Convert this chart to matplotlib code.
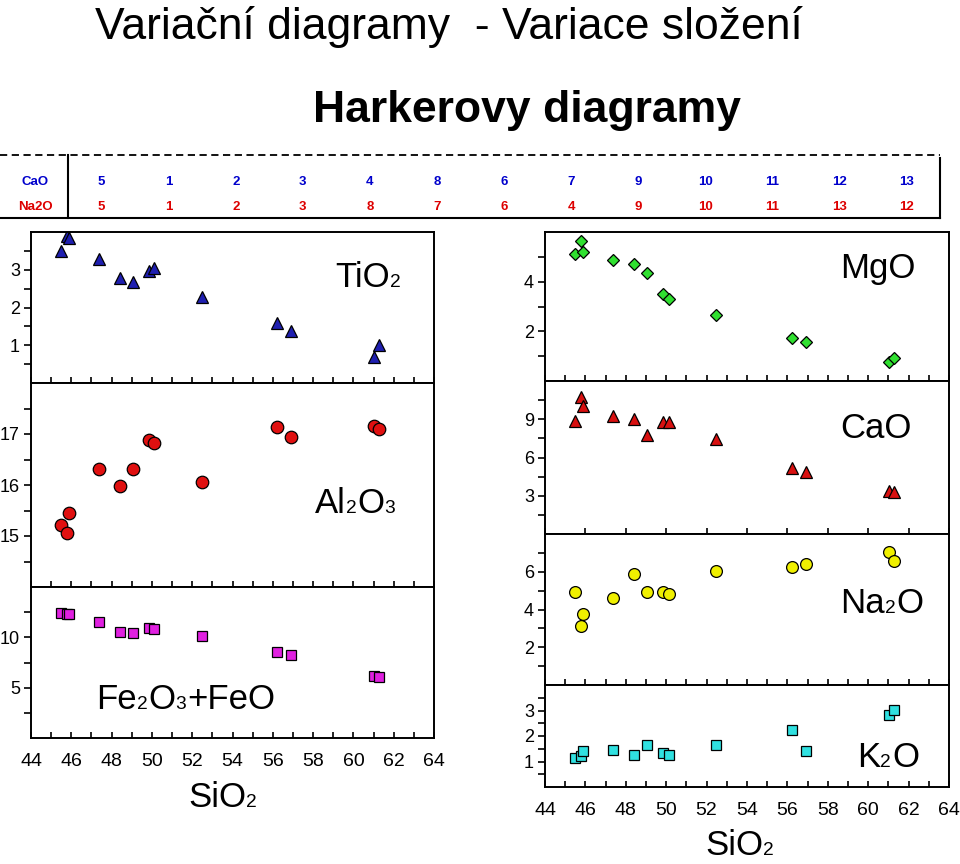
import matplotlib
matplotlib.use('Agg')
import matplotlib.pyplot as plt
from matplotlib import font_manager
from matplotlib.lines import Line2D
from matplotlib.transforms import IdentityTransform
from matplotlib.ticker import FixedLocator, NullFormatter

# Data: 13 samples, SiO2 vs oxides (wt %)
sio2 = [45.5, 45.8, 45.88, 47.37, 48.42, 49.04, 49.84, 50.12, 52.49, 56.22, 56.92, 61.03, 61.27]
tio2 = [3.50, 3.90, 3.85, 3.29, 2.79, 2.68, 2.96, 3.04, 2.28, 1.59, 1.37, 0.68, 1.01]
al2o3 = [15.22, 15.05, 15.45, 16.31, 15.98, 16.31, 16.89, 16.83, 16.05, 17.13, 16.95, 17.15, 17.09]
feo_t = [12.44, 12.34, 12.30, 11.57, 10.5, 10.4, 10.9, 10.8, 10.1, 8.5, 8.24, 6.2, 6.07]
mgo = [5.10, 5.65, 5.18, 4.86, 4.70, 4.34, 3.51, 3.32, 2.67, 1.73, 1.57, 0.76, 0.92]
cao = [8.87, 10.71, 10.06, 9.24, 9.05, 7.79, 8.79, 8.79, 7.48, 5.16, 4.85, 3.35, 3.27]
na2o = [4.92, 3.11, 3.77, 4.60, 5.89, 4.92, 4.92, 4.84, 6.04, 6.26, 6.41, 7.02, 6.58]
k2o = [1.15, 1.20, 1.42, 1.47, 1.26, 1.65, 1.35, 1.26, 1.63, 2.22, 1.43, 2.84, 3.03]

# pořadí vzorků v tabulce
order_cao = ['5', '1', '2', '3', '4', '8', '6', '7', '9', '10', '11', '12', '13']
order_na2o = ['5', '1', '2', '3', '8', '7', '6', '4', '9', '10', '11', '13', '12']

W, H = 960, 864
names = {f.name for f in font_manager.fontManager.ttflist}
narrow = 'Liberation Sans Narrow' if 'Liberation Sans Narrow' in names else 'Liberation Sans'
sans = 'Liberation Sans'

fig = plt.figure(figsize=(W / 100, H / 100), dpi=100)
renderer = fig.canvas.get_renderer()


def box(x0, y0, x1, y1):
    return [x0 / W, 1 - y1 / H, (x1 - x0) / W, (y1 - y0) / H]


def formula(x, y, parts, size=25):
    """Text with small digits, x/y = start and baseline in image pixels."""
    xp = x
    for txt, small in parts:
        t = fig.text(xp, H - y, txt, fontsize=size * 0.55 if small else size,
                     family=sans, va='baseline', transform=IdentityTransform())
        xp = t.get_window_extent(renderer).x1 + (1 if small else 0)


def panel(rect, y, ylim, labels, minor, marker, color, ms, bottom=False, xstep=1):
    ax = fig.add_axes(box(*rect))
    ax.plot(sio2, y, ls='none', marker=marker, ms=ms, mfc=color, mec='black', mew=0.9)
    ax.set_xlim(44, 64)
    ax.set_ylim(*ylim)
    for s in ax.spines.values():
        s.set_linewidth(1.4)
    ax.yaxis.set_major_locator(FixedLocator(labels))
    ax.yaxis.set_minor_locator(FixedLocator(minor))
    ax.yaxis.set_minor_formatter(NullFormatter())
    ax.xaxis.set_major_locator(FixedLocator(list(range(44, 65, 2))))
    if xstep == 1:
        ax.xaxis.set_minor_locator(FixedLocator(list(range(45, 64, 2))))
    ax.tick_params(axis='y', which='both', direction='out', length=5, width=1.2,
                   labelsize=13, pad=3)
    ax.tick_params(axis='x', which='both', direction='in', length=4, width=1.2,
                   labelsize=14, pad=11, labelbottom=bottom)
    for lab in ax.get_xticklabels() + ax.get_yticklabels():
        lab.set_family(sans)
    return ax


# levý sloupec
panel((31, 232, 434, 383), tio2, (0, 4), [1, 2, 3], [0.5, 1.5, 2.5, 3.5], '^', '#1f1fb0', 8.5)
panel((31, 383, 434, 587), al2o3, (14, 18), [15, 16, 17], [14.5, 15.5, 16.5, 17.5], 'o', '#e01010', 9)
panel((31, 587, 434, 738), feo_t, (0, 15), [5, 10], [2.5, 7.5, 12.5], 's', '#e020e0', 7.5, bottom=True)

# pravý sloupec
panel((545, 232, 949, 381), mgo, (0, 6), [2, 4], [1, 3, 5], 'D', '#30e030', 6.5)
panel((545, 381, 949, 534), cao, (0, 12), [3, 6, 9], [1.5, 4.5, 7.5, 10.5], '^', '#d81010', 8.5, xstep=2)
panel((545, 534, 949, 685), na2o, (0, 8), [2, 4, 6], [1, 3, 5, 7], 'o', '#f0f000', 8.5)
panel((545, 685, 949, 787), k2o, (0, 4), [1, 2, 3], [0.5, 1.5, 2.5, 3.5], 's', '#30e0e0', 7.5, bottom=True)

# popisky oxidů
formula(335, 287, [('TiO', 0), ('2', 1)])
formula(315, 513, [('Al', 0), ('2', 1), ('O', 0), ('3', 1)])
formula(96, 709, [('Fe', 0), ('2', 1), ('O', 0), ('3', 1), ('+FeO', 0)])
formula(840, 278, [('MgO', 0)])
formula(840, 438, [('CaO', 0)])
formula(840, 613, [('Na', 0), ('2', 1), ('O', 0)])
formula(857, 767, [('K', 0), ('2', 1), ('O', 0)])
formula(188, 807, [('SiO', 0), ('2', 1)])
formula(705, 855, [('SiO', 0), ('2', 1)])

# nadpisy
fig.text(95 / W, 1 - 39 / H, 'Variační diagramy  - Variace složení', family=narrow,
         fontsize=32, va='baseline', ha='left')
fig.text(527 / W, 1 - 122 / H, 'Harkerovy diagramy', family=narrow, weight='bold',
         fontsize=32, va='baseline', ha='center')

# tabulka pořadí
tr = IdentityTransform()
fig.add_artist(Line2D([0, 940], [H - 155, H - 155], transform=tr, color='black',
                      lw=1.3, ls=(0, (4, 2.5))))
fig.add_artist(Line2D([0, 940], [H - 218, H - 218], transform=tr, color='black', lw=1.5))
fig.add_artist(Line2D([68, 68], [H - 155, H - 218], transform=tr, color='black', lw=1.5))
fig.add_artist(Line2D([940, 940], [H - 158, H - 218], transform=tr, color='black', lw=1.5))
fig.text(35, H - 182, 'CaO', color='#0000cc', fontsize=9.5, weight='bold', family=sans,
         ha='center', va='center', transform=tr)
fig.text(35, H - 207, 'Na2O', color='#dd0000', fontsize=9.5, weight='bold', family=sans,
         ha='center', va='center', transform=tr)
for i, (a, b) in enumerate(zip(order_cao, order_na2o)):
    xc = 101.5 + 67.1 * i
    fig.text(xc, H - 182, a, color='#0000cc', fontsize=9.5, weight='bold', family=sans,
             ha='center', va='center', transform=tr)
    fig.text(xc, H - 207, b, color='#dd0000', fontsize=9.5, weight='bold', family=sans,
             ha='center', va='center', transform=tr)

fig.savefig('out.png', dpi=100)
